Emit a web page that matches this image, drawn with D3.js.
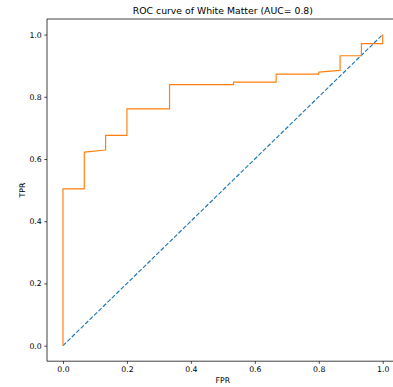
<!DOCTYPE html>
<html>
<head>
<meta charset="utf-8">
<script src="https://cdn.jsdelivr.net/npm/d3@7"></script>
<style>
html,body{margin:0;padding:0;background:#fff;overflow:hidden;}
svg{display:block;}
text{font-family:"DejaVu Sans",sans-serif;fill:#000;}
</style>
</head>
<body>
<svg id="chart" width="393" height="387"></svg>
<script>
const title = "ROC curve of White Matter (AUC= 0.8)";
const xLabel = "FPR";
const yLabel = "TPR";
const fpr = [0, 0, 0.0667, 0.0667, 0.1333, 0.1333, 0.2, 0.2, 0.3333, 0.3333, 0.5333, 0.5333, 0.6667, 0.6667, 0.8, 0.8, 0.8667, 0.8667, 0.9333, 0.9333, 1.0, 1.0];
const tpr = [0, 0.504, 0.504, 0.622, 0.629, 0.676, 0.676, 0.761, 0.761, 0.839, 0.839, 0.847, 0.847, 0.873, 0.873, 0.879, 0.885, 0.932, 0.932, 0.971, 0.971, 1.0];
const chanceX = [0, 1];
const chanceY = [0, 1];
const xTicks = [0.0, 0.2, 0.4, 0.6, 0.8, 1.0];
const yTicks = [0.0, 0.2, 0.4, 0.6, 0.8, 1.0];

const svg = d3.select("#chart");
const L = 47, R = 398.7, T = 19, B = 361.2;
const x = d3.scaleLinear().domain([-0.05, 1.05]).range([L, R]);
const y = d3.scaleLinear().domain([-0.05, 1.05]).range([B, T]);

const line = d3.line().x(d => x(d[0])).y(d => y(d[1]));

// chance diagonal
svg.append("path")
  .datum(chanceX.map((v, i) => [v, chanceY[i]]))
  .attr("d", line)
  .attr("fill", "none")
  .attr("stroke", "#1f77b4")
  .attr("stroke-width", 1.16)
  .attr("stroke-dasharray", "4.3,1.9");

// ROC curve
svg.append("path")
  .datum(fpr.map((v, i) => [v, tpr[i]]))
  .attr("d", line)
  .attr("fill", "none")
  .attr("stroke", "#ff7f0e")
  .attr("stroke-width", 1.16)
  .attr("stroke-linejoin", "round");

// axes
const fmt = d3.format(".1f");
const xAxis = svg.append("g")
  .attr("transform", `translate(0,${B})`)
  .call(d3.axisBottom(x).tickValues(xTicks).tickFormat(fmt).tickSize(2.7).tickPadding(2.6));
const yAxis = svg.append("g")
  .attr("transform", `translate(${L},0)`)
  .call(d3.axisLeft(y).tickValues(yTicks).tickFormat(fmt).tickSize(2.7).tickPadding(2.6));
[xAxis, yAxis].forEach(g => {
  g.select(".domain").remove();
  g.selectAll(".tick line").attr("stroke", "#000").attr("stroke-width", 0.7);
  g.selectAll(".tick text").attr("font-family", "DejaVu Sans").attr("font-size", 7.75).attr("fill", "#000");
});

// spines
const sp = svg.append("g").attr("stroke", "#000").attr("stroke-width", 0.75).attr("fill", "none");
sp.append("line").attr("x1", L).attr("x2", L).attr("y1", T).attr("y2", B);
sp.append("line").attr("x1", L).attr("x2", R).attr("y1", B).attr("y2", B);
sp.append("line").attr("x1", L).attr("x2", R).attr("y1", T).attr("y2", T);
sp.append("line").attr("x1", R).attr("x2", R).attr("y1", T).attr("y2", B);

// labels
svg.append("text")
  .attr("x", (L + R) / 2).attr("y", 13.5)
  .attr("text-anchor", "middle")
  .attr("font-size", 9.3)
  .text(title);
svg.append("text")
  .attr("x", (L + R) / 2).attr("y", 383)
  .attr("text-anchor", "middle")
  .attr("font-size", 7.75)
  .text(xLabel);
svg.append("text")
  .attr("transform", `translate(24.5,${(T + B) / 2}) rotate(-90)`)
  .attr("text-anchor", "middle")
  .attr("font-size", 7.75)
  .text(yLabel);
</script>
</body>
</html>
